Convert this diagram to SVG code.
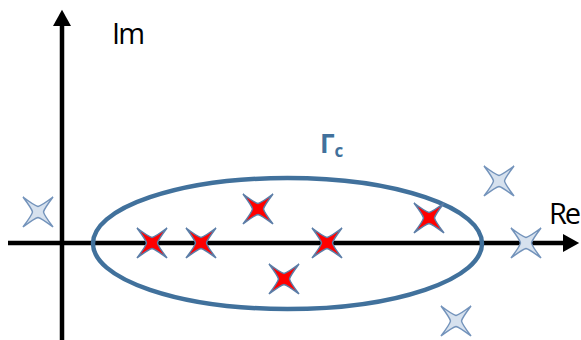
<svg xmlns="http://www.w3.org/2000/svg" width="581" height="340" viewBox="0 0 581 340">
<defs>
<style>
.axis{stroke:#000;stroke-width:4.5;fill:none}
.lbl{font-family:"Open Sans","Liberation Sans",sans-serif;font-size:29px;fill:#000}
.zero{fill:#ff0000;stroke:#5b7ea8;stroke-width:1.5}
.pole{fill:#d6e1ee;stroke:#7393bb;stroke-width:1.5}
</style>
<path id="star" d="M-15,-15 Q-3,-6 0,-5.5 Q3,-6 15,-15 Q6,-3 5.5,0 Q6,3 15,15 Q3,6 0,5.5 Q-3,6 -15,15 Q-6,3 -5.5,0 Q-6,-3 -15,-15 Z"/>
<marker id="arr" markerWidth="4" markerHeight="4" refX="0" refY="2" orient="auto" markerUnits="strokeWidth">
<path d="M0,0 L3.6,2 L0,4 Z" fill="#000"/>
</marker>
</defs>
<rect width="581" height="340" fill="#fff"/>
<g id="connectors">
<line class="axis" x1="62" y1="340" x2="62" y2="26" marker-end="url(#arr)"/>
<line class="axis" x1="8" y1="243" x2="563" y2="243" marker-end="url(#arr)"/>
</g>
<g id="contour">
<ellipse cx="287.5" cy="243.5" rx="194.5" ry="65.5" fill="none" stroke="#41719c" stroke-width="4.5"/>
<text x="320" y="153" font-family="Open Sans,Liberation Sans,sans-serif" font-size="26" font-weight="bold" fill="#41719c">Γ<tspan font-size="17" dy="4">c</tspan></text>
</g>
<g id="labels">
<text class="lbl" x="112" y="44" textLength="33">Im</text>
<text class="lbl" x="549" y="224" textLength="32">Re</text>
</g>
<g id="zeros">
<use href="#star" class="zero" x="152" y="243"/>
<use href="#star" class="zero" x="201" y="243"/>
<use href="#star" class="zero" x="258" y="209"/>
<use href="#star" class="zero" x="327" y="243"/>
<use href="#star" class="zero" x="284" y="279"/>
<use href="#star" class="zero" x="429" y="218"/>
</g>
<g id="poles">
<use href="#star" class="pole" x="38" y="212"/>
<use href="#star" class="pole" x="499" y="181"/>
<use href="#star" class="pole" x="526" y="243"/>
<use href="#star" class="pole" x="456" y="321"/>
</g>
</svg>
